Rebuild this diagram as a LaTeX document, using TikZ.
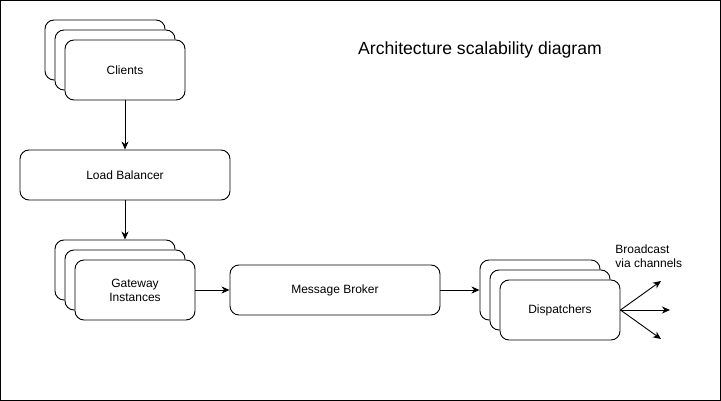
\documentclass[tikz,border=0pt]{standalone}
\usepackage{fontspec}
\setmainfont{Liberation Sans}
\usetikzlibrary{arrows.meta}
\begin{document}
\begin{tikzpicture}[x=1pt,y=-1pt,line width=0.9pt,
  box/.style={draw,rounded corners=9pt,fill=white,minimum width=120pt,minimum height=60pt,
    inner sep=0pt,align=center,font=\fontsize{12}{14}\selectfont},
  widebox/.style={box,minimum width=210pt,minimum height=50pt},
  arr/.style={-{Stealth[length=8pt,width=7pt,inset=2.5pt]}}]
        \useasboundingbox (0,0) rectangle (721,401);
        \draw (0.5,0.5) rectangle (720.5,400.5);
        \node[font=\fontsize{17.6}{21}\selectfont] (title) at (480,50) {Architecture scalability diagram};
        % clients
        \node[box] (cl3) at (105,50) {};
        \node[box] (cl2) at (115,60) {};
        \node[box] (cl) at (125,70) {Clients};
        \node[widebox] (lb) at (125,175) {Load Balancer};
        % gateways
        \node[box] (gw3) at (115,270) {};
        \node[box] (gw2) at (125,280) {};
        \node[box] (gw) at (135,290) {Gateway\\Instances};
        \node[widebox] (mb) at (335,290) {Message Broker};
        % dispatchers
        \node[box] (dp3) at (540,290) {};
        \node[box] (dp2) at (550,300) {};
        \node[box] (dp) at (560,310) {Dispatchers};
        \coordinate (b1) at (661,281);
        \coordinate (b2) at (670,310);
        \coordinate (b3) at (661,339);
        \node[align=left,font=\fontsize{12}{14}\selectfont,anchor=north west,inner sep=0pt] (bc) at (615,244) {Broadcast\\via channels};
        \draw[arr] (cl) -- (lb);
        \draw[arr] (lb.south) -- (lb.south|-gw3.north);
        \draw[arr] (gw) -- (mb);
        \draw[arr] (mb) -- (dp3);
        \draw[arr] (dp.east) -- (b1);
        \draw[arr] (dp.east) -- (b2);
        \draw[arr] (dp.east) -- (b3);
        \end{tikzpicture}
\end{document}
